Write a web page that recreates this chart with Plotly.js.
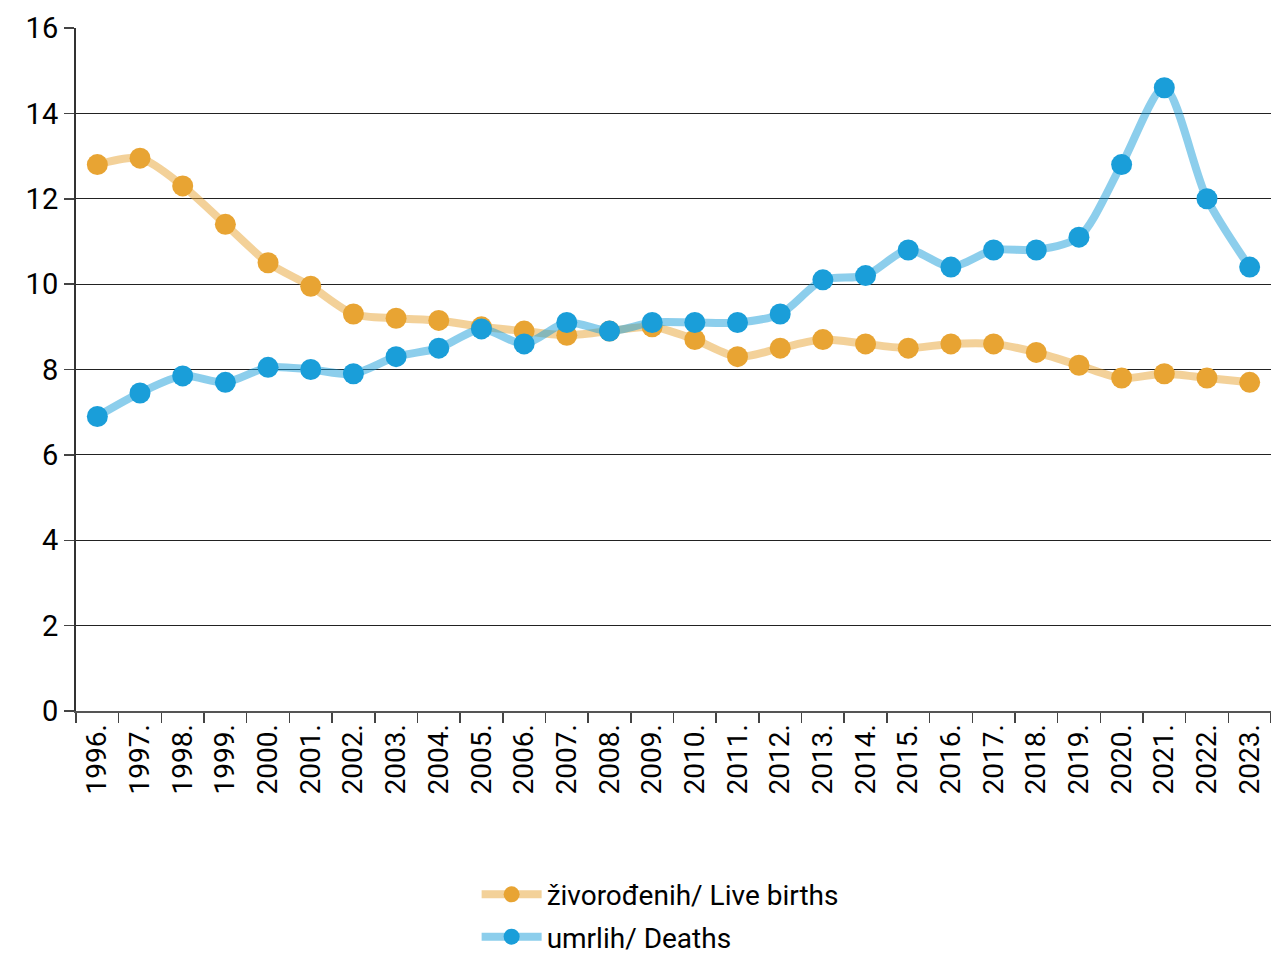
<!DOCTYPE html>
<html>
<head>
<meta charset="utf-8">
<script src="https://cdn.plot.ly/plotly-3.0.1.min.js"></script>
<style>body{margin:0;padding:0;background:#fff;} #chart{width:1271px;height:963px;}</style>
</head>
<body>
<div id="chart"></div>
<script>
const years = ["1996.","1997.","1998.","1999.","2000.","2001.","2002.","2003.","2004.","2005.","2006.","2007.","2008.","2009.","2010.","2011.","2012.","2013.","2014.","2015.","2016.","2017.","2018.","2019.","2020.","2021.","2022.","2023."];
const liveBirths = [12.8,12.95,12.3,11.4,10.5,9.95,9.3,9.2,9.15,9.0,8.9,8.8,8.9,9.0,8.7,8.3,8.5,8.7,8.6,8.5,8.6,8.6,8.4,8.1,7.8,7.9,7.8,7.7];
const deaths = [6.9,7.45,7.85,7.7,8.05,8.0,7.9,8.3,8.5,8.95,8.6,9.1,8.9,9.1,9.1,9.1,9.3,10.1,10.2,10.8,10.4,10.8,10.8,11.1,12.8,14.6,12.0,10.4];
const seriesNames = ["živorođenih/ Live births","umrlih/ Deaths"];
const yTicks = [0,2,4,6,8,10,12,14,16];

const font = "Roboto, 'DejaVu Sans', sans-serif";

const traces = [
  {x: years, y: liveBirths, name: seriesNames[0], legendgroup: 'a', type: 'scatter', mode: 'lines+markers',
   line: {color: 'rgba(232,164,51,0.5)', width: 8, shape: 'spline', smoothing: 0.8},
   marker: {color: '#E8A433', size: 21}},
  {x: years, y: deaths, name: seriesNames[1], legendgroup: 'b', type: 'scatter', mode: 'lines+markers',
   line: {color: 'rgba(26,158,217,0.5)', width: 8, shape: 'spline', smoothing: 0.8},
   marker: {color: '#1A9ED9', size: 21}}
];

const layout = {
  width: 1271, height: 963,
  margin: {l: 76, r: 0, t: 28, b: 252, autoexpand: false},
  paper_bgcolor: '#fff', plot_bgcolor: '#fff',
  font: {family: font, size: 28, color: '#000'},
  showlegend: true,
  legend: {orientation: 'v', xref: 'container', yref: 'container', x: 0.375, xanchor: 'left', y: 0.097, yanchor: 'top',
           traceorder: 'grouped', tracegroupgap: 3,
           font: {family: font, size: 28, color: '#000'}, itemwidth: 60},
  xaxis: {type: 'category', range: [-0.5, 27.5], tickangle: -90, tickson: 'boundaries',
          ticks: 'outside', ticklen: 10, tickcolor: '#444', tickwidth: 1.5, automargin: false,
          showline: true, linecolor: '#555', linewidth: 2, showgrid: false, zeroline: false,
          tickfont: {family: font, size: 28, color: '#000'}, fixedrange: true},
  yaxis: {range: [0, 16], tickvals: yTicks, ticktext: yTicks.map(String), automargin: false,
          ticks: 'outside', ticklen: 10, tickcolor: '#444', tickwidth: 1.5,
          showline: true, linecolor: '#333', linewidth: 2,
          showgrid: true, gridcolor: '#222', gridwidth: 1, zeroline: false,
          tickfont: {family: font, size: 29, color: '#000'}, fixedrange: true}
};

Plotly.newPlot('chart', traces, layout, {displayModeBar: false, staticPlot: true});
</script>
</body>
</html>
